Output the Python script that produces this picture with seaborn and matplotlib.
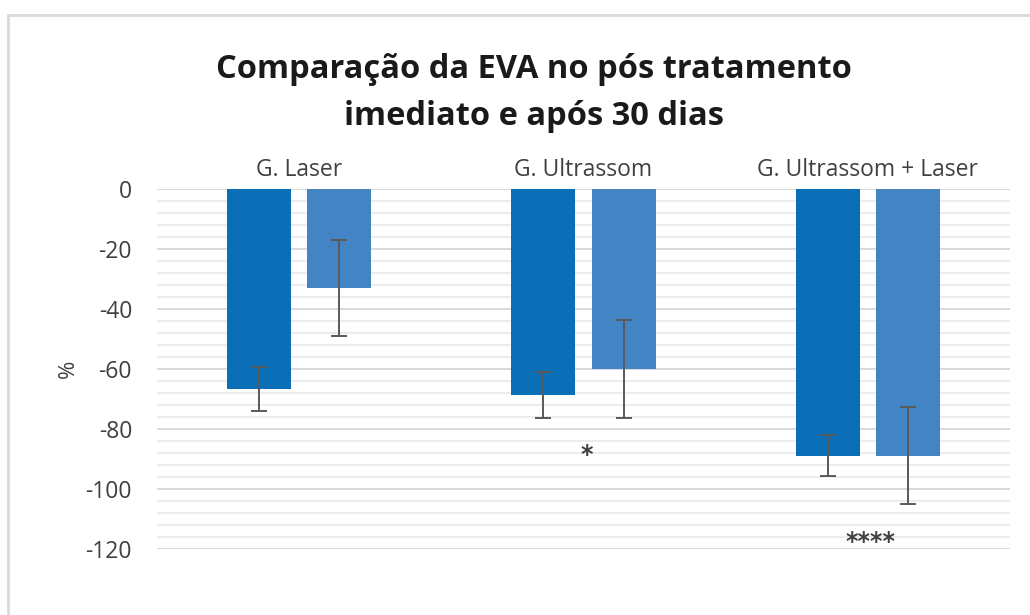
import matplotlib
matplotlib.use("Agg")
import matplotlib.pyplot as plt
from matplotlib.lines import Line2D
from matplotlib.ticker import MultipleLocator
import numpy as np
import pandas as pd
import seaborn as sns

# Mean change in EVA (%) per group, immediately after treatment and after 30 days
groups = ["G. Laser", "G. Ultrassom", "G. Ultrassom + Laser"]
periods = ["Pós tratamento imediato", "Após 30 dias"]
imediato = [-66.7, -68.7, -88.9]
apos_30 = [-32.9, -60.0, -88.9]
err_imediato = [7.3, 7.6, 6.9]
err_apos_30 = [16.0, 16.2, 16.2]
signif = ["", "*", "****"]
signif_y = [0, -88.7, -117.7]

colors = ["#0b6fb8", "#4384c5"]

df = pd.DataFrame({
    "grupo": groups * 2,
    "periodo": [periods[0]] * 3 + [periods[1]] * 3,
    "valor": imediato + apos_30,
})

sns.set_style("white")
plt.rcParams["font.family"] = ["Open Sans", "DejaVu Sans"]
plt.rcParams["axes.unicode_minus"] = False

fig = plt.figure(figsize=(10.3, 6.15), dpi=100)
ax = fig.add_axes([157 / 1030, 1 - 549 / 615, (1010 - 157) / 1030, 360 / 615])

sns.barplot(data=df, x="grupo", y="valor", hue="periodo", order=groups,
            hue_order=periods, palette=colors, saturation=1, width=0.565,
            gap=0.2, errorbar=None, legend=False, ax=ax, linewidth=0)

for container, errs in zip(ax.containers, [err_imediato, err_apos_30]):
    for bar, e in zip(container, errs):
        xc = bar.get_x() + bar.get_width() / 2
        ax.errorbar(xc, bar.get_y() + bar.get_height(), yerr=e, fmt="none",
                    ecolor="#595959", elinewidth=1.4, capsize=5.5,
                    capthick=1.4, zorder=5)

for i, (s, y) in enumerate(zip(signif, signif_y)):
    if s:
        ax.text(i + 0.01, y, s, ha="center", va="center", fontsize=17,
                fontweight="bold", color="#404040", family="DejaVu Sans")

ax.set_ylim(-120, 0)
ax.set_xlim(-0.5, 2.5)
ax.set_yticks(np.arange(-120, 1, 20))
ax.yaxis.set_minor_locator(MultipleLocator(4))
ax.grid(which="major", axis="y", color="#d9d9d9", lw=1.4)
ax.grid(which="minor", axis="y", color="#ececec", lw=1.4)
ax.grid(which="major", axis="x", visible=False)
ax.set_axisbelow(True)
for sp in ax.spines.values():
    sp.set_visible(False)

ax.xaxis.tick_top()
ax.tick_params(axis="x", length=0, pad=5, labelsize=16.5, labelcolor="#404040")
ax.tick_params(axis="y", which="both", length=0, pad=18, labelsize=16.5,
               labelcolor="#404040")
ax.set_xlabel("")
ax.set_ylabel("%", fontsize=16, color="#404040", labelpad=5)

title_kw = dict(ha="center", va="center", fontsize=23.5, fontweight="bold",
                color="#1a1a1a")
fig.text(534 / 1030, 1 - 70 / 615, "Comparação da EVA no pós tratamento", **title_kw)
fig.text(534 / 1030, 1 - 117 / 615, "imediato e após 30 dias", **title_kw)

# chart-area frame
fig.add_artist(Line2D([8 / 1030, 8 / 1030], [0, 1 - 15 / 615],
                      transform=fig.transFigure, color="#d9d9d9", lw=2))
fig.add_artist(Line2D([8 / 1030, 1], [1 - 15 / 615, 1 - 15 / 615],
                      transform=fig.transFigure, color="#d9d9d9", lw=2))

fig.savefig("out.png", dpi=100)
